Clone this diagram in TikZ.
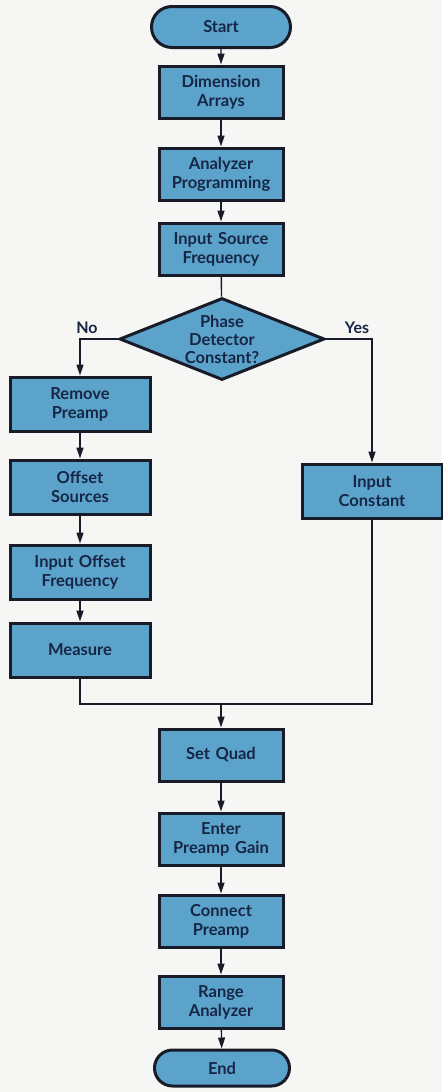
\documentclass[tikz,border=0pt]{standalone}
\usepackage{fontspec}
\setmainfont{Lato}
\usetikzlibrary{arrows.meta,shapes.geometric,shapes.misc}
\definecolor{paper}{RGB}{246,246,244}
\definecolor{steel}{RGB}{92,163,204}
\definecolor{ink}{RGB}{24,28,40}
\definecolor{navy}{RGB}{22,38,68}
\tikzset{
  >={Triangle[length=11pt,width=7pt]},
  box/.style={rectangle,draw=ink,fill=steel,line width=3pt,
    minimum height=#1,text width=124pt,align=center,inner sep=0pt,
    font=\fontsize{16.5}{19}\selectfont\bfseries,text=navy},
  box/.default=52pt,
  wide box/.style={box=54pt,text width=140pt},
  terminal/.style={rounded rectangle,draw=ink,fill=steel,line width=3pt,
    minimum width=#1,minimum height=41pt,inner sep=0pt,
    font=\fontsize{16.5}{19}\selectfont\bfseries,text=navy},
  terminal/.default=139pt,
  decision/.style={diamond,draw=ink,fill=steel,line width=3pt,aspect=2.5,
    inner sep=-2pt,minimum width=205pt,minimum height=82pt,align=center,
    font=\fontsize{16.5}{18}\selectfont\bfseries,text=navy},
  flow/.style={->,line width=1.4pt,draw=ink},
  link/.style={line width=1.4pt,draw=ink},
  tag/.style={font=\fontsize{16}{18}\selectfont\bfseries,text=navy},
}
\begin{document}
\begin{tikzpicture}[x=1pt,y=-1pt]
  \fill[paper] (0,0) rectangle (442,1092);
  \useasboundingbox (0,0) rectangle (442,1092);
  % main column
  \node[terminal] (start) at (221,27) {Start};
  \node[box] (dim) at (221,92) {Dimension\\Arrays};
  \node[box] (prog) at (221,174) {Analyzer\\Programming};
  \node[box] (src) at (221,249) {Input Source\\Frequency};
  \node[decision] (phase) at (222,339) {Phase\\Detector\\Constant?};
  \node[tag] (no) at (87,328) {No};
  \node[tag] (yes) at (357,328) {Yes};
  % no branch
  \node[wide box] (remove) at (80,404) {Remove\\Preamp};
  \node[wide box] (offset) at (80,487) {Offset\\Sources};
  \node[wide box] (inoff) at (80,572) {Input Offset\\Frequency};
  \node[wide box] (measure) at (80,650) {Measure};
  % yes branch
  \node[wide box] (const) at (372,491) {Input\\Constant};
  \coordinate (merge) at (221,704);
  \node[box] (quad) at (221,755) {Set Quad};
  \node[box] (gain) at (221,839) {Enter\\Preamp Gain};
  \node[box] (conn) at (221,921) {Connect\\Preamp};
  \node[box] (range) at (221,1002) {Range\\Analyzer};
  \node[terminal=135pt,minimum height=36pt] (end) at (222,1068) {End};

  \draw[flow] (start) -- (dim);
  \draw[flow] (dim) -- (prog);
  \draw[flow] (prog) -- (src);
  \draw[link] (src) -- (phase);
  \draw[flow] (phase.west) -| (remove.north);
  \draw[flow] (phase.east) -| (const.north);
  \draw[flow] (remove) -- (offset);
  \draw[flow] (offset) -- (inoff);
  \draw[flow] (inoff) -- (measure);
  \draw[link] (measure.south) |- (merge) -| (const.south);
  \draw[flow] (merge) -- (quad);
  \draw[flow] (quad) -- (gain);
  \draw[flow] (gain) -- (conn);
  \draw[flow] (conn) -- (range);
  \draw[flow] (range) -- (end);
\end{tikzpicture}
\end{document}
